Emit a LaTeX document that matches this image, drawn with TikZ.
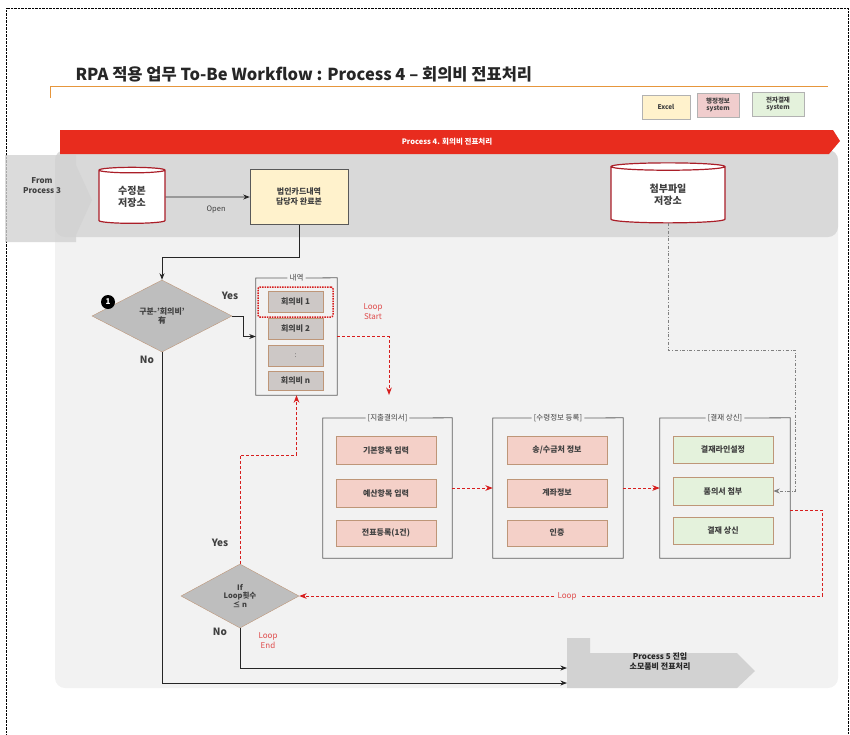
\documentclass[tikz,border=0pt]{standalone}
\usepackage{fontspec}
\setmainfont{Noto Sans CJK KR}
\usetikzlibrary{arrows.meta,shapes.geometric,positioning,calc}
\definecolor{txt}{RGB}{64,64,64}
\definecolor{bannerred}{RGB}{232,44,30}
\definecolor{storered}{RGB}{170,30,40}
\definecolor{tanline}{RGB}{190,150,120}
\definecolor{listgray}{RGB}{205,200,198}
\definecolor{diagray}{RGB}{190,190,190}
\definecolor{pinkc}{RGB}{244,208,200}
\definecolor{greenc}{RGB}{228,242,220}
\definecolor{excelc}{RGB}{255,242,204}
\definecolor{adminc}{RGB}{240,205,205}
\definecolor{titleline}{RGB}{230,150,60}
\definecolor{loopred}{RGB}{215,30,30}

\begin{document}
\begin{tikzpicture}[x=1pt,y=-1pt,>=Stealth,
    font=\fontsize{8}{10}\selectfont,
    every node/.style={text=txt},
    listitem/.style={draw=tanline, fill=listgray, minimum width=55pt, minimum height=21pt, inner sep=0pt, font=\bfseries\fontsize{8}{9}\selectfont},
    pinkitem/.style={draw=tanline, fill=pinkc, minimum width=100pt, minimum height=28pt, inner sep=0pt, font=\bfseries\fontsize{8}{9}\selectfont},
    greenitem/.style={pinkitem, fill=greenc, minimum height=27pt},
    groupframe/.style={draw=gray!75!black, line width=0.8pt},
    grouptitle/.style={inner sep=2pt, font=\fontsize{7.5}{9}\selectfont},
    decision/.style={diamond, draw=tanline, fill=diagray, inner sep=0pt, align=center, font=\bfseries\fontsize{8}{9}\selectfont},
    store/.style={cylinder, shape border rotate=90, aspect=0.2, draw=storered, line width=1.2pt, fill=white, align=center, inner sep=0pt, font=\bfseries\fontsize{10}{12}\selectfont},
    flow/.style={draw=gray!30!black, line width=0.8pt},
    loopline/.style={draw=loopred, densely dashed, line width=1pt},
    attline/.style={draw=gray, dash dot, line width=0.8pt},
    legendbox/.style={draw=gray!60, minimum height=24pt, align=center, inner sep=1pt, font=\bfseries\fontsize{6.5}{7.5}\selectfont},
    redlabel/.style={text=loopred!80, align=center, font=\fontsize{8}{10}\selectfont},
    yn/.style={font=\bfseries\fontsize{10}{12}\selectfont}]
  \useasboundingbox (0,0) rectangle (850,734);
  \draw[densely dotted] (6,734) -- (6,8) -- (848,8) -- (848,734);

  % heading, legend, banner
  \node[anchor=west, text=black!85, font=\bfseries\fontsize{16.5}{19}\selectfont] (title) at (72,74) {RPA 적용 업무 To-Be Workflow : Process 4 – 회의비 전표처리};
  \draw[titleline, line width=0.8pt] (50,98) -- (50,86) -- (828,86);
  \node[legendbox, fill=excelc, minimum width=48pt] (lgexcel) at (666,107) {Excel};
  \node[legendbox, fill=adminc, minimum width=42pt] (lgadmin) at (718,105) {행정정보\\system};
  \node[legendbox, fill=greenc, minimum width=52pt] (lgappr) at (778,104) {전자결재\\system};
  \fill[gray!10, rounded corners=10pt] (55,150) rectangle (838,688);
  \fill[gray!30, rounded corners=10pt] (55,150) rectangle (838,237);
  \fill[bannerred] (60,130) -- (833,130) -- (840,141) -- (829,154) -- (60,154) -- cycle;
  \node[text=white, font=\bfseries\fontsize{7.5}{9}\selectfont] (banner) at (447,142) {Process 4. 회의비 전표처리};

  % in and out arrows
  \fill[gray!35, opacity=0.8] (5,155) -- (76,155) -- (76,165) -- (92,200) -- (76,235) -- (76,242) -- (5,242) -- cycle;
  \node[align=center, font=\bfseries\fontsize{8}{10}\selectfont] (from3) at (42,186) {From\\Process 3};
  \fill[gray!35] (567,638) -- (590,638) -- (590,653) -- (737,653) -- (755,671) -- (737,688) -- (567,688) -- cycle;
  \node[align=center, text=black!85, font=\bfseries\fontsize{8}{10}\selectfont] (proc5) at (660,662) {Process 5 진입\\소모품비 전표처리};
  \coordinate (in5a) at (567,668);
  \coordinate (in5b) at (567,683);

  % stores and card file
  \node[store, minimum width=66pt, minimum height=56pt] (store1) at (132,197) {수정본\\저장소};
  \node[store, minimum width=114pt, minimum height=60pt] (store2) at (668,195) {첨부파일\\저장소};
  \node[draw=gray!70!black, fill=excelc, minimum width=98pt, minimum height=55pt, align=center, font=\bfseries\fontsize{8}{10}\selectfont] (card) at (299,197) {법인카드내역\\담당자 완료본};
  \draw[flow,->] (store1) -- node[pos=0.6, below=5pt, font=\fontsize{7.5}{9}\selectfont] {Open} (card);

  % first decision
  \node[decision, minimum width=140pt, minimum height=72pt] (dec1) at (162,316) {구분-'회의비'\\有};
  \node[circle, fill=black, text=white, inner sep=0pt, minimum size=14pt, font=\bfseries\fontsize{8}{9}\selectfont] (mark1) at (108,302) {1};
  \draw[flow,->] (card.south) -- ++(0,33) -| (dec1.north);

  % list of items
  \node[minimum width=81pt, minimum height=117pt] (list) at (296.5,336.5) {};
  \node[grouptitle] (listt) at (296.5,278) {내역};
  \draw[groupframe] (listt.west) -| (list.south west) -| (list.north east) -- (listt.east);
  \node[listitem] (mtg1) at (295.5,302) {회의비 1};
  \node[listitem] (mtg2) at (295.5,328.5) {회의비 2};
  \node[listitem, font=\fontsize{7}{8}\selectfont] (mtgdots) at (295.5,355.5) {:};
  \node[listitem, minimum height=19pt] (mtgn) at (295.5,380.5) {회의비 n};
  \node[draw=loopred, densely dotted, line width=1.5pt, rounded corners=2pt, minimum width=75pt, minimum height=30pt] (sel) at (mtg1) {};
  \draw[flow,->] (dec1.east) -- ++(11,0) |- (list.west);
  \node[yn] (yes1) at (230,296) {Yes};
  \node[yn] (no1) at (147,360) {No};

  % groups
  \node[minimum width=129pt, minimum height=140pt] (grp1) at (387.5,488) {};
  \node[grouptitle] (grp1t) at (387.5,418) {[지출결의서]};
  \draw[groupframe] (grp1t.west) -| (grp1.south west) -| (grp1.north east) -- (grp1t.east);
  \node[pinkitem] (basic) at (386,450) {기본항목 입력};
  \node[pinkitem] (budget) at (386,493) {예산항목 입력};
  \node[pinkitem, minimum height=26pt] (slip) at (386,533) {전표등록(1건)};

  \node[minimum width=130pt, minimum height=140pt] (grp2) at (558,488) {};
  \node[grouptitle] (grp2t) at (558,418) {[수령정보 등록]};
  \draw[groupframe] (grp2t.west) -| (grp2.south west) -| (grp2.north east) -- (grp2t.east);
  \node[pinkitem] (payee) at (557,450) {송/수금처 정보};
  \node[pinkitem] (account) at (557,493) {계좌정보};
  \node[pinkitem, minimum height=26pt] (auth) at (557,533) {인증};

  \node[minimum width=130pt, minimum height=140pt] (grp3) at (725,488) {};
  \node[grouptitle] (grp3t) at (725,418) {[결재 상신]};
  \draw[groupframe] (grp3t.west) -| (grp3.south west) -| (grp3.north east) -- (grp3t.east);
  \node[greenitem] (line) at (723,449.5) {결재라인설정};
  \node[greenitem, minimum height=28pt] (attach) at (723,491) {품의서 첨부};
  \node[greenitem] (submit) at (723,530.5) {결재 상신};

  % loop
  \node[redlabel] (lstart) at (373,312) {Loop\\Start};
  \coordinate (lsend) at (389,395);
  \draw[loopline,->] (list.east) -| (lsend);
  \draw[loopline,->] (grp1.east) -- (grp2.west);
  \draw[loopline,->] (grp2.east) -- (grp3.west);
  \node[decision, minimum width=118pt, minimum height=64pt, font=\bfseries\fontsize{7.5}{8.5}\selectfont] (dec2) at (240,596) {If\\Loop횟수\\≤ n};
  \node[redlabel] (lback) at (567,596) {Loop};
  \coordinate (lturn) at (822,596);
  \draw[loopline] ([yshift=-22pt]grp3.east) -| (lturn) -- (lback.east);
  \draw[loopline,->] (lback.west) -- (dec2.east);
  \coordinate (lup) at (296.5,455);
  \draw[loopline,->] (dec2.north) |- (lup) -- (list.south);
  \node[yn] (yes2) at (220,543) {Yes};
  \node[yn] (no2) at (220,632) {No};
  \node[redlabel] (lend) at (268,641) {Loop\\End};

  % attachments
  \coordinate (acorner) at (795,350);
  \draw[attline,->] (store2.south) |- (acorner) |- (attach.east);

  % exits
  \draw[flow,->] (dec2.south) |- (in5a);
  \draw[flow,->] (dec1.south) |- (in5b);
\end{tikzpicture}
\end{document}
